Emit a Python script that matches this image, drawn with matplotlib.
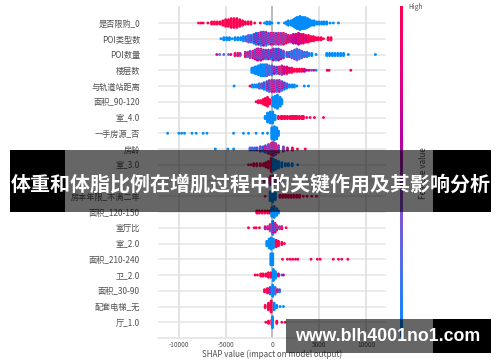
import matplotlib
matplotlib.use("Agg")
import matplotlib.pyplot as plt
from matplotlib.colors import LinearSegmentedColormap
from matplotlib.patches import Rectangle
import numpy as np

FW, FH = 500, 362
CJK = ['Noto Sans CJK SC', 'DejaVu Sans']
plt.rcParams['font.family'] = CJK
plt.rcParams['axes.unicode_minus'] = False

features = ['是否限购_0', 'POI类型数', 'POI数量', '楼层数', '与轨道站距离', '面积_90-120', '室_4.0',
            '一手房源_否', '房龄', '室_3.0', '', '房本年限_不满二年', '面积_120-150', '室厅比',
            '室_2.0', '面积_210-240', '卫_2.0', '面积_30-90', '配套电梯_无', '厅_1.0']
x_ticks = [-10000, -5000, 0, 5000, 10000]
x_label = 'SHAP value (impact on model output)'
title_text = '体重和体脂比例在增肌过程中的关键作用及其影响分析'
site_text = 'www.blh4001no1.com'

# each row: SHAP position, half-height of the swarm in pixels, feature value (0 low, 1 high)
x0 = [-7900,-7650,-7400,-6900,-6500,-6200,-5900,-5600,-5300,-5000,-4700,-4400,-4100,-3800,-3500,-3200,-2900,-2600,-2300,-1900,-1300,-850,-600,-300,-70,640,1280,1500,1700,2000,2240,2420,2600,2780,2950,3120,3300,3500,3740,3950,4200,4450,4730,5000,5270,5530,5800,6150,6500,7050]
n0 = [0,0,0,0,1,1,1,1,2,3,3,4,4.5,4,3,2,1.5,1,1,0,0,0,1,1,0,0,0,1,2,2,3,4,5,6,6.5,6,5.5,5,4,3,2.5,2,1.5,1,1,1,1,0,0,0]
v0 = [1]*21 + [0]*29

x1 = [-5500,-5200,-4900,-4600,-4300,-4000,-3700,-3400,-3100,-2800,-2560,-2300,-2000,-1750,-1500,-1230,-960,-700,-430,-170,100,370,640,900,1170,1450,1700,1970,2240,2500,2780,3040,3300,3570,3840,4100,4380,4640,4900,5200,5450,5950,6250]
n1 = [0,1,1,1,0,1,1,1,2,2,3,3,4,5,6,6.5,7,6.5,6,5.5,5,5.5,6,5.5,5,4,3,3.5,4,4.5,5,4.5,4,3.5,3,2.5,2,1.5,1,1,0,1,1]
v1 = [0,0,0,0,0,0,0,0,0,.1,.1,.2,.25,.3,.35,.4,.4,.45,.5,.5,.55,.55,.6,.65,.65,.7,.75,.8,.85,.9,.9,.95,.95,.95,1,1,1,1,1,1,1,1,1]

x2 = [-5950,-5650,-5200,-4700,-4450,-4000,-3700,-3450,-2900,-2650,-2400,-2100,-1850,-1650,-1500,-1230,-960,-700,-430,-170,100,370,640,900,1170,1530,1800,2060,2350,2600,2870,3130,3400,3660,3900,4200,4660,5800,6100,6400,6700,7000,7300,7600,8100,11000]
n2 = [0,0,0,0,0,1,1,1,2,2,3,3,4,5,6,5,4,4,4,4.5,5,5.5,6,4.5,3,2,2.5,3,4,5,4,3,2.5,2,1,1,0,1,1,1,1,1,1,1,0,0]
v2 = [.6,.6,.6,.6,.6,.7,.7,.7,.7,.6,.6,.55,.5,.5,.45,.45,.4,.4,.4,.35,.35,.3,.3,.25,.2,.15,.15,.1,.1,.05,.05,.05,.1,.1,.1,0,0,0,0,0,0,0,0,0,0,0]

x3 = [-2200,-2000,-1850,-1700,-1500,-1250,-1030,-800,-600,-350,-70,200,460,730,1000,1250,1530,1800,2060,2330,2600,2870,3130,3400,3650,3900,4150,4400,4660,5850,6050,8370]
n3 = [2,2.5,3,3.5,4,5,6,5.5,5,4.5,4,3.5,3,3.5,4,3.5,3,2.5,2,1.5,1,1,1,1,.5,.5,0,0,0,0,0,0]
v3 = [0,0,0,0,0,0,0,0,.05,.1,.15,.3,.45,.6,.7,.85,.9,.95,1,1,1,1,1,.95,.9,.8,.7,.5,.3,1,1,1]

x4 = [-4100,-2400,-2150,-1900,-1650,-1400,-1150,-900,-600,-350,-70,190,460,730,1000,1270,1530,1800,2060,2330,2600,3400,3850]
n4 = [0,0,1,1,1.5,2,2,3,4,5,6,6,6,5,4,3,2,1.5,1,1,0,0,0]
v4 = [0,1,0,0,0,.1,.15,.2,.4,.45,.55,.5,.5,.45,.4,.35,.2,.1,0,0,0,0,0]

x5 = [-1750,-1500,-1250,-1000,-780,-530,-300,30,280,530,820,1000]
n5 = [0,1,1,2,3,4,2,4,6,7,4,2]
v5 = [1,1,1,1,1,1,1,0,0,0,0,0]

x6 = [-780,-530,-250,30,280,640,930,1350,1900,2250,2600,3130,3660,4020,4480,5450,1100,1600,2100,2450,2850,3300]
n6 = [1,4,6,6,2,1,1,1,1,1,1,1,0,0,0,0,1,1,1,1,1,1]
v6 = [0,0,0,0,0,1,1,1,1,1,1,1,1,1,1,1,1,1,1,1,1,1]

x7 = [-11200,-10000,-9700,-9400,-8600,-8150,-7400,-7000,-4150,-3100,-2560,-1750,-1030,-530,-70,200,460,640]
n7 = [0,0,0,0,0,0,0,0,0,0,0,0,0,0,5,7,6,2]
v7 = [0]*18

x8 = [-6100,-4770,-4150,-2400,-2150,-1900,-1650,-1300,-1000,-750,-430,-150,100,350,640,1170,1600,2130,2670,3500]
n8 = [0,0,0,1,1,1,1,2,2,3,4,6,7,5,3,2,1,1,0,0]
v8 = [0,0,0,.1,.1,.15,.2,.2,.3,.4,.5,.65,.7,.6,.5,.6,.8,1,1,1]

x9 = [-2560,-2300,-2000,-1670,-1300,-950,-700,-430,-140,100,350,640,1000,1380,1700,2100,2700]
n9 = [0,0,1,1,1,1,2,3,7,5,4,3,2,1,1,1,0]
v9 = [1,1,1,1,1,1,1,1,1,0,0,0,0,0,0,0,0]

x10 = [-900,-500,-200,100,350,700]
n10 = [1,2,4,4,2,1]
v10 = [.8,.8,.7,.3,.2,.2]

x11 = [-780,-250,30,300,800,1100,1400,1700,2000,2300,2600,2900,3300,3700,4200,4700]
n11 = [0,4,5,3,1,1,1,1,1,1,1,1,0,0,0,0]
v11 = [1,0,0,0,1,1,1,1,1,1,1,1,1,1,1,1]

x12 = [-1670,-1400,-1100,-800,-500,-250,-70,180,450,640]
n12 = [1,1,1,1,1,1,4,5,3,1]
v12 = [1,1,1,1,1,1,0,0,0,0]

x13 = [-2560,-1950,-1740,-1390,-780,-500,-250,30,280,460,750,1000,1460]
n13 = [0,0,0,0,1,1,3,7,4,2,1,1,0]
v13 = [1,1,1,1,.8,.7,.6,.3,.4,.6,.7,.7,.7]

x14 = [-600,-350,-140,100,400,640,1000,1280]
n14 = [2,4,6,4,3,2,1,0]
v14 = [0,0,0,0,1,1,1,1]

x15 = [-170,30,1070,1600,1890,2170,2460,2710,4120,4800,5090,6500,7050,7400,8050]
n15 = [6,6,0,0,0,0,0,0,0,0,0,0,0,0,0]
v15 = [0,0,1,1,1,1,1,1,1,1,1,1,1,1,1]

x16 = [-1850,-1600,-1250,-1000,-700,-430,-170,100,320,640,1000,1170]
n16 = [0,0,1,1,1.5,2,2,6,3,1,0,0]
v16 = [1,1,1,1,1,1,1,0,0,.9,0,.9]

x17 = [-850,-530,-250,30,280,530,750]
n17 = [1,2,3,5,3,1,1]
v17 = [1,1,.3,0,.1,.8,.2]

x18 = [-780,-430,-140,180,460,820,1170]
n18 = [1,3,5,3,1,0,0]
v18 = [1,1,1,0,0,0,0]

x19 = [-710,-430,-70,0,460,1000,1350]
n19 = [0,1,2,6,1,0,0]
v19 = [1,1,1,0,1,1,1]

rows_x = [x0,x1,x2,x3,x4,x5,x6,x7,x8,x9,x10,x11,x12,x13,x14,x15,x16,x17,x18,x19]
rows_n = [n0,n1,n2,n3,n4,n5,n6,n7,n8,n9,n10,n11,n12,n13,n14,n15,n16,n17,n18,n19]
rows_v = [v0,v1,v2,v3,v4,v5,v6,v7,v8,v9,v10,v11,v12,v13,v14,v15,v16,v17,v18,v19]

cmap = LinearSegmentedColormap.from_list('shap_rb', [
    (0, '#008bfb'), (.2, '#4a72ee'), (.37, '#7d55d5'), (.58, '#b400a5'), (.8, '#e00080'), (1, '#ff0051')])

fig = plt.figure(figsize=(FW/100, FH/100), dpi=100, facecolor='white')

def box(l, t, r, b):
    return [l/FW, 1-b/FH, (r-l)/FW, (b-t)/FH]

ax = fig.add_axes(box(158, 6, 386, 338))
row_px = 15.74
ax.set_xlim(-12230, 12130)
ax.set_ylim(20.0, -1.08)
for s in ['top', 'left', 'right']:
    ax.spines[s].set_visible(False)
ax.spines['bottom'].set_color('#e4e4e4')
ax.spines['bottom'].set_linewidth(1.2)
for i in range(len(features)):
    ax.axhline(i, color='#e6e6e6', lw=1.1, zorder=1)
for t in x_ticks:
    ax.axvline(t, color='#a8a8a8' if t == 0 else '#dcdcdc', lw=1.1, zorder=1.5)

px, py, pc = [], [], []
for i, (xs, ns, vs) in enumerate(zip(rows_x, rows_n, rows_v)):
    for x, n, v in zip(xs, ns, vs):
        m = int(round(n / 1.1))
        for k in range(-m, m + 1):
            c = v
            if 0 < v < 1:
                c = min(1, max(0, v + (0.3 if (k + int(x / 250)) % 2 else -0.3)))
            px.append(x)
            py.append(i + k * 1.1 / row_px)
            pc.append(c)
ax.scatter(px, py, c=pc, cmap=cmap, vmin=0, vmax=1, s=4.2, linewidths=0, zorder=3)

ax.set_yticks(range(len(features)), features, fontsize=5.9, color='#505050')
ax.set_xticks(x_ticks, [str(t) for t in x_ticks], fontsize=4.6, color='#505050')
ax.tick_params(axis='y', length=0, pad=13)
ax.tick_params(axis='x', length=0, pad=2.4)
ax.set_xlabel(x_label, fontsize=5.8, color='#505050', labelpad=0.4)

cax = fig.add_axes(box(400.4, 6, 402.8, 337))
cax.imshow(np.linspace(1, 0, 256)[:, None], aspect='auto', cmap=cmap, vmin=0, vmax=1)
cax.axis('off')
fig.text(408/FW, 1-7/FH, 'High', fontsize=4.8, color='#505050', va='center', ha='left')
fig.text(424/FW, 1-173/FH, 'Feature value', fontsize=5.9, color='#505050', va='center', ha='center', rotation=90)

def rect(l, t, r, b, alpha):
    fig.add_artist(Rectangle((l/FW, 1-b/FH), (r-l)/FW, (b-t)/FH, transform=fig.transFigure,
                             facecolor='black', edgecolor='none', alpha=alpha, zorder=10))

rect(10, 150, 65, 212, 1)
rect(65, 150, 433, 212, .6)
rect(433, 150, 491, 212, 1)
rect(286, 319, 433, 353, .6)
rect(433, 319, 491, 353, 1)

fig.text(250.5/FW, 1-183.5/FH, title_text, fontsize=14.4, color='white', fontweight='bold',
         ha='center', va='center', zorder=11)
fig.text(388/FW, 1-336.5/FH, site_text, fontsize=12.75, color='white', fontweight='bold',
         family='Liberation Sans', ha='center', va='center', zorder=11)

fig.savefig('out.png', dpi=100)
